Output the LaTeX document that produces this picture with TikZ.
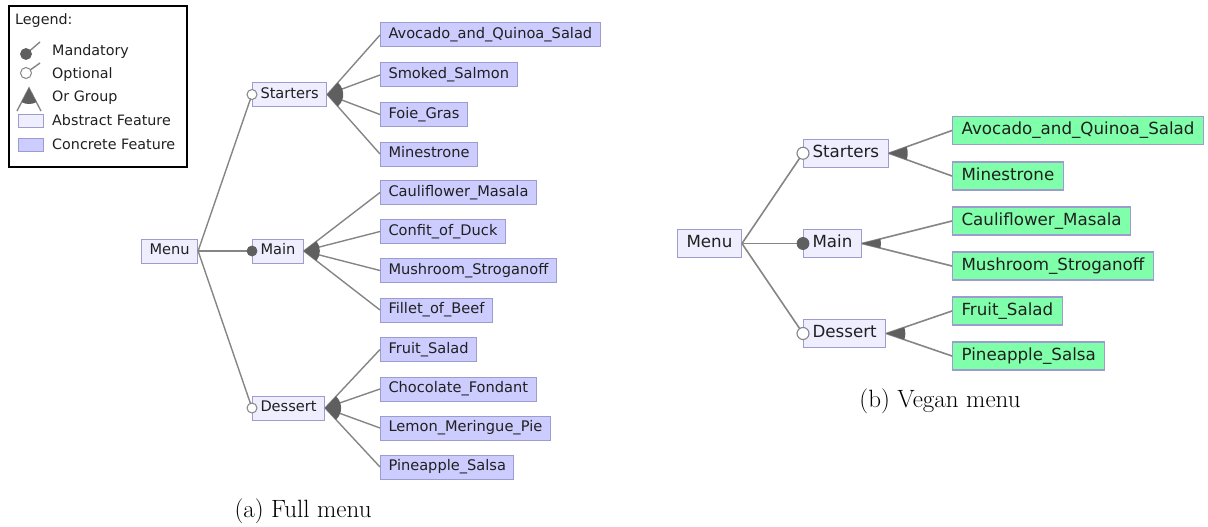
\documentclass[tikz,border=0pt]{standalone}
\usepackage{fontspec}
\newfontfamily\dv{DejaVu Sans}
\usetikzlibrary{calc}
\definecolor{absfill}{HTML}{EEEEFF}
\definecolor{confill}{HTML}{CCCCFF}
\definecolor{grnfill}{HTML}{80FFAA}
\definecolor{bord}{HTML}{9C9CCF}
\definecolor{linec}{HTML}{858585}
\definecolor{fanc}{HTML}{5F5F5F}
\definecolor{txtc}{HTML}{202020}
\newcommand\fanfill[4]{%
  \fill[fanc] let \p1=($(#2)-(#1)$), \p2=($(#3)-(#1)$),
    \n1={atan2(\y1,\x1)}, \n2={atan2(\y2,\x2)} in
    (#1) -- ++(\n1:#4) arc[start angle=\n1, end angle=\n2, radius=#4] -- cycle;}
\tikzset{
  featL/.style={draw=bord, line width=1pt, anchor=west, inner xsep=8pt, inner ysep=0pt,
    minimum height=24pt, text height=11pt, text depth=3.5pt,
    font=\dv\fontsize{14.6}{17}\selectfont, text=txtc},
  absL/.style={featL, fill=absfill},
  conL/.style={featL, fill=confill},
  featR/.style={draw=bord, line width=1.1pt, anchor=west, inner xsep=9pt, inner ysep=0pt,
    minimum height=28pt, text height=12.6pt, text depth=4pt,
    font=\dv\fontsize{16.7}{19}\selectfont, text=txtc},
  absR/.style={featR, fill=absfill},
  grnR/.style={featR, fill=grnfill},
  connL/.style={draw=linec, line width=1.4pt},
  connR/.style={draw=linec, line width=1.6pt},
  mandL/.style={circle, fill=fanc, draw=fanc, line width=0.8pt, inner sep=0pt, minimum size=10pt},
  optL/.style={circle, fill=white, draw=linec, line width=1pt, inner sep=0pt, minimum size=10pt},
  mandR/.style={circle, fill=fanc, draw=fanc, line width=0.8pt, inner sep=0pt, minimum size=12pt},
  optR/.style={circle, fill=white, draw=linec, line width=1.1pt, inner sep=0pt, minimum size=12pt},
  legtxt/.style={anchor=west, inner sep=0pt, font=\dv\fontsize{14.3}{17}\selectfont, text=txtc},
  legbox/.style={draw=bord, line width=1pt},
  capt/.style={anchor=base, inner sep=0pt, font=\fontsize{25}{30}\selectfont},
}
\begin{document}
\begin{tikzpicture}[x=1pt,y=-1pt]
\useasboundingbox (0,0) rectangle (1208,527);
% ---------------- legend ----------------
\draw[black, line width=1.2pt] (9,6) rectangle (187,167);
\node[legtxt] (lgtitle) at (15,21) {Legend:};
\coordinate (lmc) at (26,54);  \coordinate (lmt) at (40,42);
\coordinate (loc) at (26,73);  \coordinate (lot) at (40,63);
\coordinate (lga) at (29,88);  \coordinate (lgl) at (17,111); \coordinate (lgr) at (41,111);
\draw[connL] (lmc) -- (lmt);
\draw[connL] (loc) -- (lot);
\draw[connL] (lgl) -- (lga) -- (lgr);
\fanfill{lga}{lgl}{lgr}{16pt}
\node[mandL, minimum size=11pt] (lmand) at (lmc) {};
\node[optL, minimum size=11pt] (lopt) at (loc) {};
\draw[legbox, fill=absfill] (18,114) rectangle (43,127);
\draw[legbox, fill=confill] (18,138) rectangle (43,151);
\node[legtxt] (ltm) at (52,51.5) {Mandatory};
\node[legtxt] (lto) at (52,74.5) {Optional};
\node[legtxt] (ltg) at (52,97.5) {Or Group};
\node[legtxt] (lta) at (52,120.5) {Abstract Feature};
\node[legtxt] (ltc) at (52,144) {Concrete Feature};
% ---------------- full menu ----------------
\node[absL] (menu) at (141,251) {Menu};
\node[absL] (st) at (252,94.5) {Starters};
\node[absL] (mn) at (252,251) {Main};
\node[absL] (ds) at (252,408) {Dessert};
\node[conL] (a1) at (380,35) {Avocado\_and\_Quinoa\_Salad};
\node[conL] (a2) at (380,75) {Smoked\_Salmon};
\node[conL] (a3) at (380,114.5) {Foie\_Gras};
\node[conL] (a4) at (380,154) {Minestrone};
\node[conL] (a5) at (380,192.5) {Cauliflower\_Masala};
\node[conL] (a6) at (380,231.5) {Confit\_of\_Duck};
\node[conL] (a7) at (380,270.5) {Mushroom\_Stroganoff};
\node[conL] (a8) at (380,310) {Fillet\_of\_Beef};
\node[conL] (a9) at (380,349.5) {Fruit\_Salad};
\node[conL] (a10) at (380,389) {Chocolate\_Fondant};
\node[conL] (a11) at (380,428) {Lemon\_Meringue\_Pie};
\node[conL] (a12) at (380,467) {Pineapple\_Salsa};
\draw[connL] (menu.east) -- (st.west);
\draw[connL] (menu.east) -- (mn.west);
\draw[connL] (menu.east) -- (ds.west);
\foreach \c in {a1,a2,a3,a4} \draw[connL] (st.east) -- (\c.west);
\foreach \c in {a5,a6,a7,a8} \draw[connL] (mn.east) -- (\c.west);
\foreach \c in {a9,a10,a11,a12} \draw[connL] (ds.east) -- (\c.west);
\fanfill{st.east}{a1.west}{a4.west}{16pt}
\fanfill{mn.east}{a5.west}{a8.west}{16pt}
\fanfill{ds.east}{a9.west}{a12.west}{16pt}
\node[optL] (sto) at (st.west) {};
\node[mandL] (mnm) at (mn.west) {};
\node[optL] (dso) at (ds.west) {};
\node[capt] (capa) at (303,517) {(a) Full menu};
% ---------------- vegan menu ----------------
\node[absR] (vmenu) at (677,243.5) {Menu};
\node[absR] (vst) at (803,153.25) {Starters};
\node[absR] (vmn) at (803,243.5) {Main};
\node[absR] (vds) at (803,333.5) {Dessert};
\node[grnR] (b1) at (952,130.5) {Avocado\_and\_Quinoa\_Salad};
\node[grnR] (b2) at (952,176) {Minestrone};
\node[grnR] (b3) at (952,221) {Cauliflower\_Masala};
\node[grnR] (b4) at (952,266) {Mushroom\_Stroganoff};
\node[grnR] (b5) at (952,311) {Fruit\_Salad};
\node[grnR] (b6) at (952,356) {Pineapple\_Salsa};
\draw[connR] (vmenu.east) -- (vst.west);
\draw[connR] (vmenu.east) -- (vmn.west);
\draw[connR] (vmenu.east) -- (vds.west);
\draw[connR] (vst.east) -- (b1.west);
\draw[connR] (vst.east) -- (b2.west);
\draw[connR] (vmn.east) -- (b3.west);
\draw[connR] (vmn.east) -- (b4.west);
\draw[connR] (vds.east) -- (b5.west);
\draw[connR] (vds.east) -- (b6.west);
\fanfill{vst.east}{b1.west}{b2.west}{19pt}
\fanfill{vmn.east}{b3.west}{b4.west}{19pt}
\fanfill{vds.east}{b5.west}{b6.west}{19pt}
\node[optR] (vsto) at (vst.west) {};
\node[mandR] (vmnm) at (vmn.west) {};
\node[optR] (vdso) at (vds.west) {};
\node[capt] (capb) at (940,407) {(b) Vegan menu};
\end{tikzpicture}
\end{document}
